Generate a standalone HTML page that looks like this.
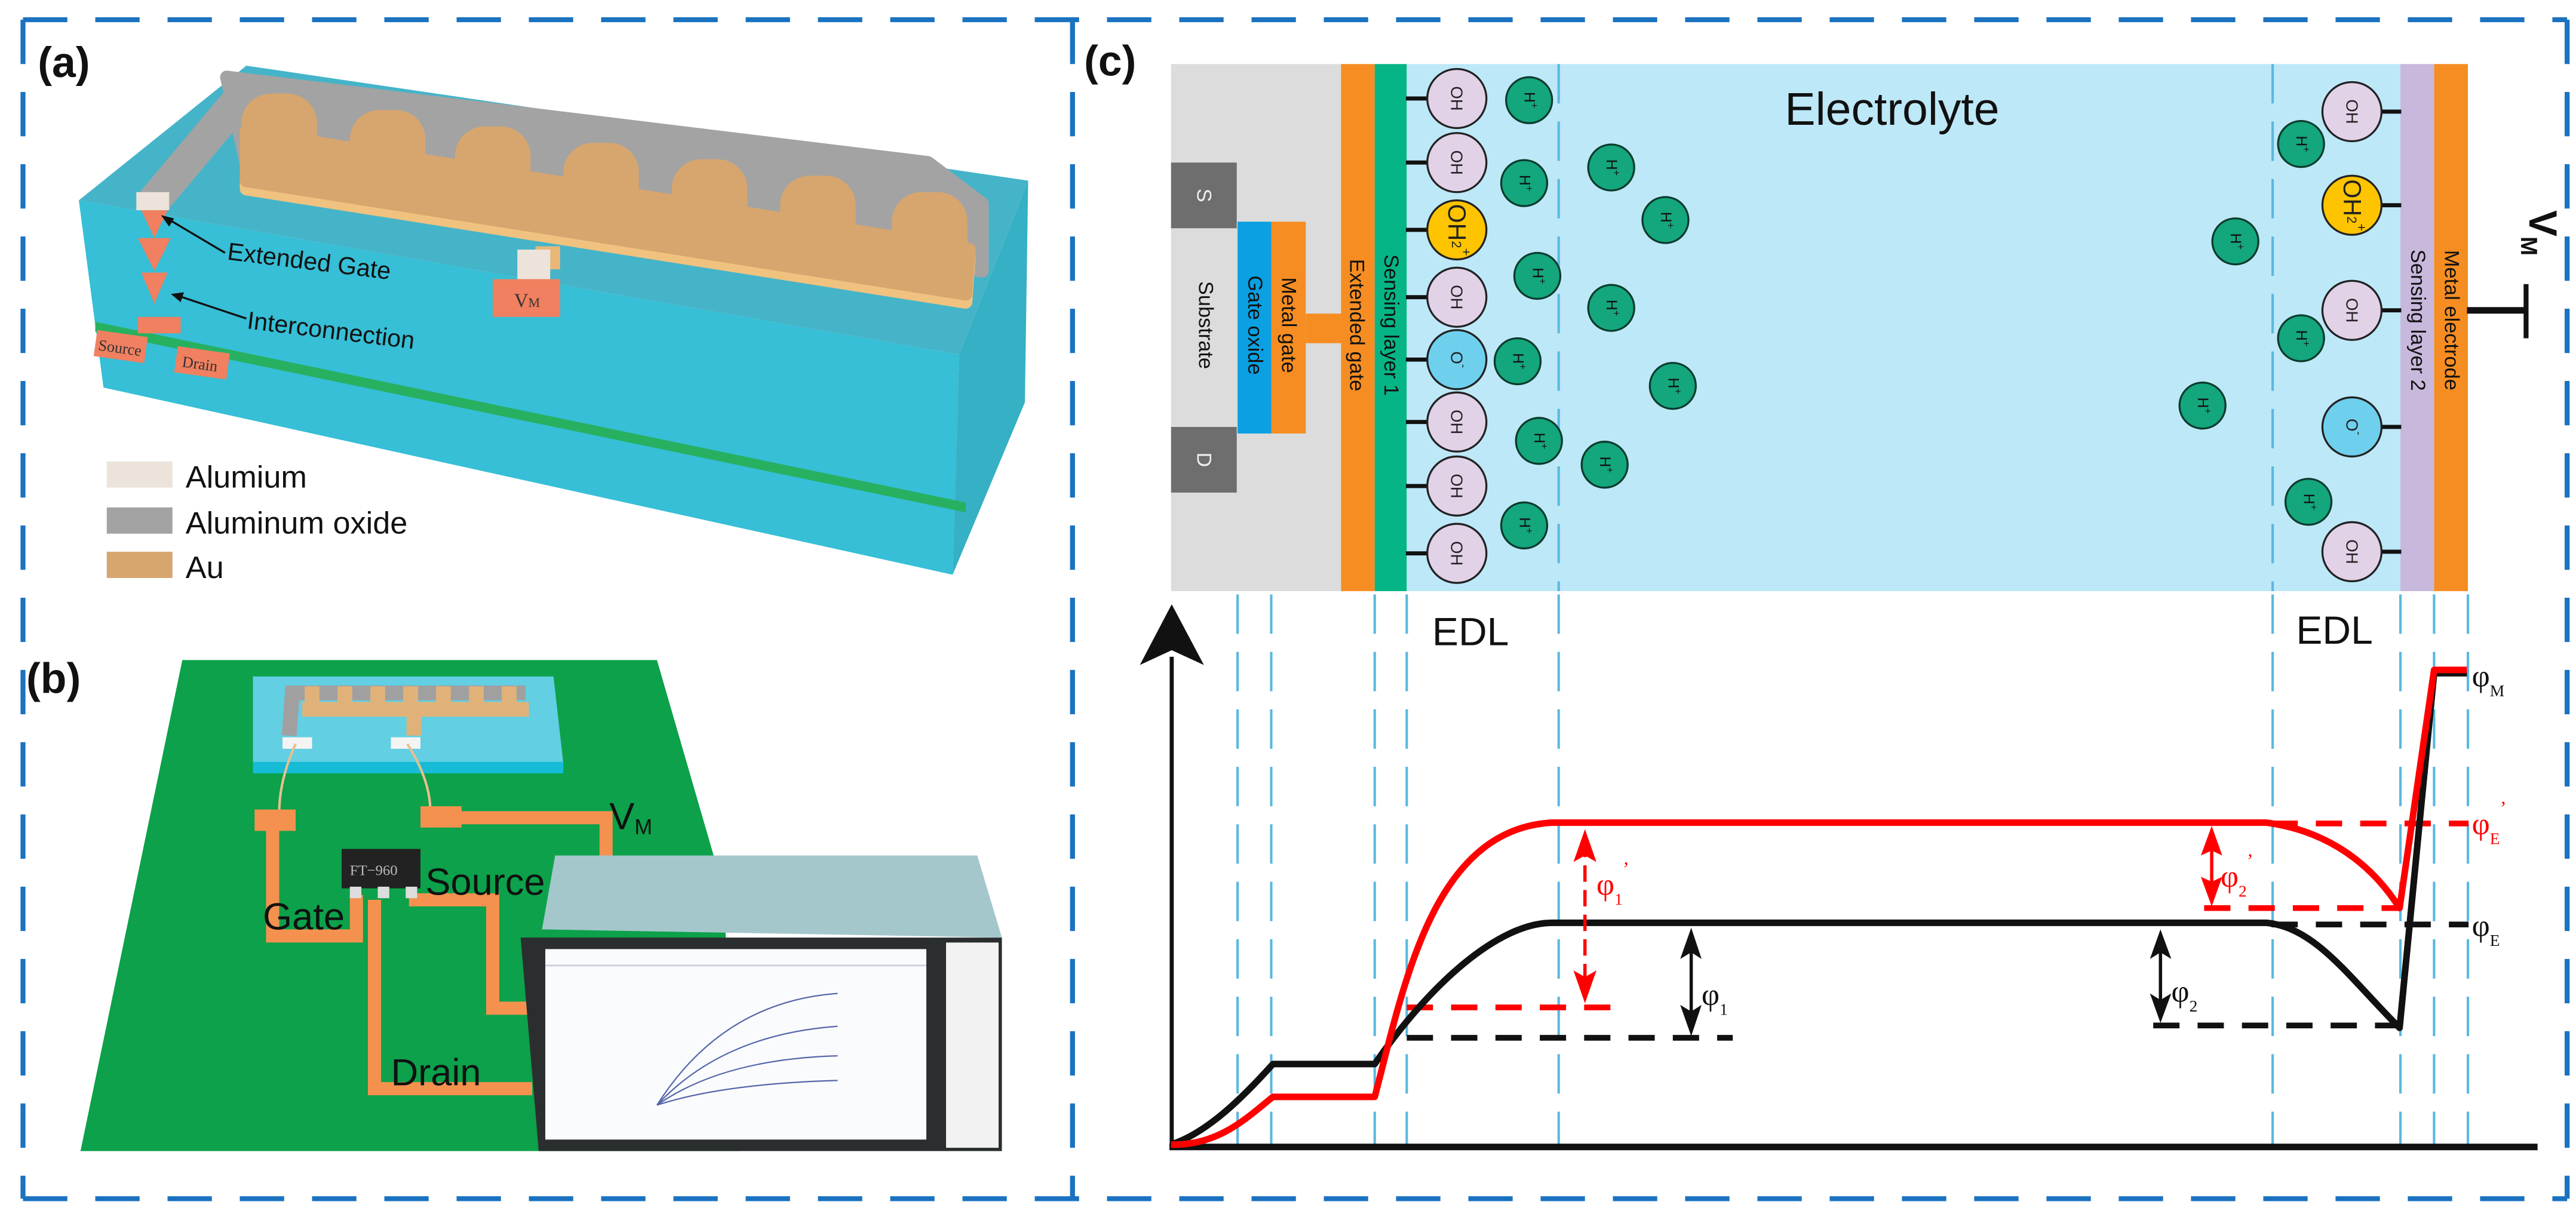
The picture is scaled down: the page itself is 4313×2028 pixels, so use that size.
<!DOCTYPE html>
<html><head><meta charset="utf-8"><style>html,body{margin:0;padding:0;background:#fff}svg{display:block}</style></head><body>
<svg width="4313" height="2028" viewBox="0 0 1568.4 737.5" preserveAspectRatio="none" xmlns="http://www.w3.org/2000/svg" font-family="Liberation Sans, sans-serif">
<rect width="1568.4" height="737.5" fill="#fff"/>
<g stroke="#1a72c0" stroke-width="3" fill="none" stroke-dasharray="27 17">
<line x1="14" y1="12" x2="1563" y2="12"/>
<line x1="14" y1="730" x2="1563" y2="730"/>
<line x1="14" y1="12" x2="14" y2="730"/>
<line x1="653" y1="12" x2="653" y2="730"/>
<line x1="1563" y1="12" x2="1563" y2="730"/>
</g>
<g font-weight="bold" font-size="26" fill="#111">
<text x="23" y="47">(a)</text><text x="16" y="422">(b)</text><text x="660" y="46">(c)</text>
</g>
<!-- (a) block -->
<polygon points="48,122 150,40 626,110 584,216" fill="#45b4c9"/>
<polygon points="48,122 584,216 580,350 63,236" fill="#36bfd6"/>
<polygon points="584,216 626,110 624,245 580,350" fill="#35b0c4"/>
<polygon points="58,196 588,306 588,312 58,202" fill="#27b060"/>
<!-- meander -->
<line x1="94" y1="122" x2="146" y2="60" stroke="#a3a3a3" stroke-width="20" stroke-linecap="round"/>
<polygon points="138,47 565,99 598,124 598,165 150,100" fill="#a3a3a3" stroke="#a3a3a3" stroke-width="8" stroke-linejoin="round"/>
<rect x="83" y="117" width="20" height="11" fill="#ece3da"/>
<polygon points="150,84 590,156 588,184 150,115" fill="#f0c27f" stroke="#f0c27f" stroke-width="8" stroke-linejoin="round"/>
<polygon points="150,80 590,152 588,179 150,110" fill="#d7a66e" stroke="#d7a66e" stroke-width="8" stroke-linejoin="round"/>
<g fill="#d7a66e">
<rect x="147" y="57" width="46" height="45" rx="18"/>
<rect x="213" y="67" width="46" height="50" rx="18"/>
<rect x="277" y="77" width="46" height="50" rx="18"/>
<rect x="343" y="87" width="46" height="52" rx="18"/>
<rect x="409" y="97" width="46" height="52" rx="18"/>
<rect x="475" y="107" width="46" height="55" rx="18"/>
<rect x="543" y="117" width="46" height="55" rx="18"/>
</g>
<rect x="326" y="150" width="15" height="14" fill="#e8b777"/>
<rect x="315" y="152" width="20" height="18" fill="#ece3da"/>
<rect x="300" y="170" width="41" height="23" fill="#f08060"/>
<text x="313" y="187" font-family="Liberation Serif, serif" font-size="12" fill="#333">V<tspan font-size="8">M</tspan></text>
<polygon points="86,128 102,128 94,145" fill="#f08060"/><polygon points="84,145 104,145 94,165" fill="#f08060"/><polygon points="86,166 102,166 94,185" fill="#f08060"/><rect x="84" y="193" width="26" height="10" fill="#f08060"/>
<rect x="58" y="203" width="31" height="16" fill="#f08060" transform="rotate(8 73 211)"/>
<rect x="107" y="213" width="32" height="16" fill="#f08060" transform="rotate(8 123 221)"/>
<text x="60" y="215" font-family="Liberation Serif, serif" font-size="9.5" fill="#333" transform="rotate(8 73 211)">Source</text>
<text x="111" y="225" font-family="Liberation Serif, serif" font-size="9.5" fill="#333" transform="rotate(8 123 221)">Drain</text>
<line x1="137" y1="154" x2="100" y2="132" stroke="#111" stroke-width="1.2"/><polygon points="98,131 106,133 103,138" fill="#111"/>
<line x1="150" y1="194" x2="108" y2="180" stroke="#111" stroke-width="1.2"/><polygon points="104,179 112,178 110,184" fill="#111"/>
<text x="138" y="158" font-size="15" fill="#111" transform="rotate(7 138 158)">Extended Gate</text>
<text x="150" y="200" font-size="15" fill="#111" transform="rotate(7 150 200)">Interconnection</text>
<rect x="65" y="281" width="40" height="16" fill="#ece3da"/><rect x="65" y="309" width="40" height="16" fill="#a3a3a3"/><rect x="65" y="336" width="40" height="16" fill="#d7a66e"/>
<g font-size="19" fill="#111"><text x="113" y="297">Alumium</text><text x="113" y="325">Aluminum oxide</text><text x="113" y="352">Au</text></g>
<!-- (b) -->
<polygon points="111,402 400,402 440,540 450,701 49,701" fill="#0ca14a"/>
<polygon points="154,412 337,412 343,465 154,465" fill="#62cfe3"/>
<rect x="154" y="464" width="189" height="7" fill="#16bcd6"/>
<polyline points="176,448 178,422 320,422" stroke="#a0a0a0" stroke-width="9" fill="none"/>
<g stroke="#e0b27a" stroke-width="9" fill="none"><line x1="184" y1="432" x2="322" y2="432"/><line x1="190" y1="432" x2="190" y2="418"/><line x1="210" y1="432" x2="210" y2="418"/><line x1="230" y1="432" x2="230" y2="418"/><line x1="250" y1="432" x2="250" y2="418"/><line x1="270" y1="432" x2="270" y2="418"/><line x1="290" y1="432" x2="290" y2="418"/><line x1="310" y1="432" x2="310" y2="418"/><line x1="252" y1="432" x2="252" y2="448"/></g>
<rect x="172" y="449" width="18" height="7" fill="#f4f4f4"/><rect x="238" y="449" width="18" height="7" fill="#f4f4f4"/>
<path d="M180,453 Q170,475 170,495 M248,453 Q262,475 262,494" stroke="#e8c090" stroke-width="1.5" fill="none"/>
<g stroke="#f5914e" stroke-width="8" fill="none" stroke-linejoin="miter">
<polyline points="166,500 166,570 217,570 217,545"/>
<polyline points="280,498 369,498 369,522"/>
<polyline points="249,548 300,548 300,614 322,614"/>
<polyline points="228,548 228,663 324,663"/>
</g>
<rect x="155" y="493" width="25" height="13" fill="#f5914e"/><rect x="256" y="491" width="25" height="13" fill="#f5914e"/>
<rect x="208" y="517" width="48" height="24" fill="#222"/>
<rect x="213" y="540" width="7" height="7" fill="#ddd"/><rect x="230" y="540" width="7" height="7" fill="#ddd"/><rect x="247" y="540" width="7" height="7" fill="#ddd"/>
<text x="213" y="533" font-family="Liberation Serif, serif" font-size="9" fill="#bbb">FT−960</text>
<g font-size="23" fill="#111"><text x="259" y="545">Source</text><text x="160" y="566">Gate</text><text x="238" y="661">Drain</text><text x="371" y="505">V<tspan font-size="13" dy="3">M</tspan></text></g>
<polygon points="330,566 338,521 595,521 610,571" fill="#a4c7cc"/>
<polygon points="317,571 610,571 610,701 328,701" fill="#2b2e2e"/>
<rect x="332" y="578" width="232" height="116" fill="#fafbfd"/>
<rect x="576" y="574" width="32" height="125" fill="#f2f2f2"/>
<g stroke="#5566aa" stroke-width="0.8" fill="none"><path d="M400,673 Q440,610 510,605"/><path d="M400,673 Q440,630 510,625"/><path d="M400,673 Q440,645 510,643"/><path d="M400,673 Q440,660 510,658"/></g>
<line x1="332" y1="588" x2="564" y2="588" stroke="#ccd" stroke-width="1"/>
<!-- (c) top -->
<rect x="713" y="39" width="104" height="321" fill="#dcdcdc"/>
<rect x="713" y="99" width="40" height="40" fill="#6e6e6e"/><rect x="713" y="260" width="40" height="40" fill="#6e6e6e"/>
<rect x="753.5" y="135" width="21" height="129" fill="#0aa0e2"/>
<rect x="774" y="135" width="21" height="129" fill="#f68d22"/><rect x="795" y="191" width="22" height="18" fill="#f68d22"/>
<rect x="816.5" y="39" width="20.5" height="321" fill="#f68d22"/>
<rect x="837" y="39" width="19.5" height="321" fill="#06b585"/>
<rect x="856.5" y="39" width="605" height="321" fill="#bde8f8"/>
<rect x="1461.5" y="39" width="20.5" height="321" fill="#c8b8dc"/>
<rect x="1482" y="39" width="20.6" height="321" fill="#f68d22"/>
<text x="1152" y="76" font-size="28" text-anchor="middle" fill="#111">Electrolyte</text>
<g font-size="12.5" fill="#111" text-anchor="middle" dominant-baseline="central">
<text transform="translate(734,198) rotate(90)">Substrate</text>
<text transform="translate(764,198) rotate(90)">Gate oxide</text>
<text transform="translate(784.5,198) rotate(90)">Metal gate</text>
<text transform="translate(826,198) rotate(90)">Extended gate</text>
<text transform="translate(847,198) rotate(90)">Sensing layer 1</text>
<text transform="translate(1472,195) rotate(90)">Sensing layer 2</text>
<text transform="translate(1492.5,195) rotate(90)">Metal electrode</text>
<text fill="#eee" transform="translate(733,119) rotate(90)">S</text>
<text fill="#eee" transform="translate(733,280) rotate(90)">D</text>
</g>
<g stroke="#5ab8e0" stroke-width="1.5" stroke-dasharray="24 11"><line x1="949" y1="39" x2="949" y2="360"/><line x1="1383.7" y1="39" x2="1383.7" y2="360"/></g>
<g stroke="#111" stroke-width="2.5">
<line x1="856" y1="60" x2="870" y2="60"/><line x1="856" y1="99" x2="870" y2="99"/><line x1="856" y1="140" x2="870" y2="140"/><line x1="856" y1="181" x2="870" y2="181"/><line x1="856" y1="219" x2="870" y2="219"/><line x1="856" y1="257" x2="870" y2="257"/><line x1="856" y1="296" x2="870" y2="296"/><line x1="856" y1="337" x2="870" y2="337"/>
<line x1="1449" y1="68" x2="1462" y2="68"/><line x1="1449" y1="125" x2="1462" y2="125"/><line x1="1449" y1="189" x2="1462" y2="189"/><line x1="1449" y1="260" x2="1462" y2="260"/><line x1="1449" y1="336" x2="1462" y2="336"/>
</g>
<g stroke="#222" stroke-width="1.2">
<circle cx="887" cy="60" r="18" fill="#e2d2e8"/><circle cx="887" cy="99" r="18" fill="#e2d2e8"/><circle cx="887" cy="140" r="18" fill="#ffc400"/><circle cx="887" cy="181" r="18" fill="#e2d2e8"/><circle cx="887" cy="219" r="18" fill="#6fd0ee"/><circle cx="887" cy="257" r="18" fill="#e2d2e8"/><circle cx="887" cy="296" r="18" fill="#e2d2e8"/><circle cx="887" cy="337" r="18" fill="#e2d2e8"/>
<circle cx="1432" cy="68" r="18" fill="#e2d2e8"/><circle cx="1432" cy="125" r="18" fill="#ffc400"/><circle cx="1432" cy="189" r="18" fill="#e2d2e8"/><circle cx="1432" cy="260" r="18" fill="#6fd0ee"/><circle cx="1432" cy="336" r="18" fill="#e2d2e8"/>
</g>
<g font-size="10" fill="#222" text-anchor="middle" dominant-baseline="central">
<text transform="translate(887,60) rotate(90)">OH</text><text transform="translate(887,99) rotate(90)">OH</text><text font-size="15" transform="translate(887,140) rotate(90)">OH<tspan font-size="8">2</tspan><tspan font-size="8" dy="-6">+</tspan></text><text transform="translate(887,181) rotate(90)">OH</text><text transform="translate(887,219) rotate(90)">O<tspan font-size="7" dy="-4">-</tspan></text><text transform="translate(887,257) rotate(90)">OH</text><text transform="translate(887,296) rotate(90)">OH</text><text transform="translate(887,337) rotate(90)">OH</text>
<text transform="translate(1432,68) rotate(90)">OH</text><text font-size="15" transform="translate(1432,125) rotate(90)">OH<tspan font-size="8">2</tspan><tspan font-size="8" dy="-6">+</tspan></text><text transform="translate(1432,189) rotate(90)">OH</text><text transform="translate(1432,260) rotate(90)">O<tspan font-size="7" dy="-4">-</tspan></text><text transform="translate(1432,336) rotate(90)">OH</text>
</g>
<g fill="#14a67c" stroke="#0b3b2c" stroke-width="1.2">
<circle cx="931" cy="61" r="14"/><circle cx="928" cy="111.5" r="14"/><circle cx="981" cy="102" r="14"/><circle cx="1014" cy="134" r="14"/><circle cx="936" cy="168" r="14"/><circle cx="981" cy="187.5" r="14"/><circle cx="924" cy="220" r="14"/><circle cx="1018.5" cy="235" r="14"/><circle cx="937" cy="268.5" r="14"/><circle cx="977" cy="283" r="14"/><circle cx="928" cy="320" r="14"/>
<circle cx="1401" cy="87.7" r="14"/><circle cx="1361" cy="147" r="14"/><circle cx="1401" cy="206" r="14"/><circle cx="1341" cy="247" r="14"/><circle cx="1405.5" cy="305.6" r="14"/>
</g>
<g font-size="9" fill="#111" text-anchor="middle" dominant-baseline="central">
<text transform="translate(931,61) rotate(90)">H<tspan font-size="6" dy="-3">+</tspan></text><text transform="translate(928,111.5) rotate(90)">H<tspan font-size="6" dy="-3">+</tspan></text><text transform="translate(981,102) rotate(90)">H<tspan font-size="6" dy="-3">+</tspan></text><text transform="translate(1014,134) rotate(90)">H<tspan font-size="6" dy="-3">+</tspan></text><text transform="translate(936,168) rotate(90)">H<tspan font-size="6" dy="-3">+</tspan></text><text transform="translate(981,187.5) rotate(90)">H<tspan font-size="6" dy="-3">+</tspan></text><text transform="translate(924,220) rotate(90)">H<tspan font-size="6" dy="-3">+</tspan></text><text transform="translate(1018.5,235) rotate(90)">H<tspan font-size="6" dy="-3">+</tspan></text><text transform="translate(937,268.5) rotate(90)">H<tspan font-size="6" dy="-3">+</tspan></text><text transform="translate(977,283) rotate(90)">H<tspan font-size="6" dy="-3">+</tspan></text><text transform="translate(928,320) rotate(90)">H<tspan font-size="6" dy="-3">+</tspan></text>
<text transform="translate(1401,87.7) rotate(90)">H<tspan font-size="6" dy="-3">+</tspan></text><text transform="translate(1361,147) rotate(90)">H<tspan font-size="6" dy="-3">+</tspan></text><text transform="translate(1401,206) rotate(90)">H<tspan font-size="6" dy="-3">+</tspan></text><text transform="translate(1341,247) rotate(90)">H<tspan font-size="6" dy="-3">+</tspan></text><text transform="translate(1405.5,305.6) rotate(90)">H<tspan font-size="6" dy="-3">+</tspan></text>
</g>
<line x1="1502" y1="189" x2="1538" y2="189" stroke="#111" stroke-width="4"/><line x1="1538" y1="173" x2="1538" y2="206" stroke="#111" stroke-width="3"/>
<text transform="translate(1540,128) rotate(90)" font-size="24" font-weight="bold" fill="#111">V<tspan font-size="14" dy="5">M</tspan></text>
<!-- (c) graph -->
<g stroke="#5ab8e0" stroke-width="1.5" stroke-dasharray="24 11">
<line x1="753.5" y1="362" x2="753.5" y2="698"/><line x1="774" y1="362" x2="774" y2="698"/><line x1="837" y1="362" x2="837" y2="698"/><line x1="856.5" y1="362" x2="856.5" y2="698"/><line x1="949" y1="362" x2="949" y2="698"/><line x1="1383.7" y1="362" x2="1383.7" y2="698"/><line x1="1461.5" y1="362" x2="1461.5" y2="698"/><line x1="1482" y1="362" x2="1482" y2="698"/><line x1="1502.6" y1="362" x2="1502.6" y2="698"/>
</g>
<g font-size="24" fill="#111"><text x="872" y="393">EDL</text><text x="1398" y="392">EDL</text></g>
<line x1="713.4" y1="400" x2="713.4" y2="699" stroke="#111" stroke-width="2.5"/>
<polygon points="713.4,368 733,405 713.4,396 694,405" fill="#111"/>
<line x1="712" y1="698.5" x2="1545" y2="698.5" stroke="#111" stroke-width="4"/>
<g stroke-width="3.5" stroke-dasharray="16 11" fill="none">
<line x1="856.5" y1="613.5" x2="985" y2="613.5" stroke="#f00"/>
<line x1="1342" y1="553" x2="1461" y2="553" stroke="#f00"/>
<line x1="1383" y1="501.5" x2="1503" y2="501.5" stroke="#f00"/>
<line x1="856.5" y1="632" x2="1055" y2="632" stroke="#111"/>
<line x1="1311" y1="624.5" x2="1461" y2="624.5" stroke="#111"/>
<line x1="1383" y1="563" x2="1503" y2="563" stroke="#111"/>
</g>
<path d="M713,697 C735,690 757,668 775,648 L837,648 C870,600 912,562 945,562 L1380,562 C1410,565 1430,595 1461,626 L1482,410 L1502,410" stroke="#111" stroke-width="4" fill="none" stroke-linejoin="round"/>
<path d="M713,697 C742,698 760,680 775,668 L837,668 C855,600 872,505 945,501 L1380,501 C1410,505 1440,520 1461,553 L1482,408 L1502,408" stroke="#f00" stroke-width="4" fill="none" stroke-linejoin="round"/>
<g stroke-width="2">
<line x1="965" y1="512" x2="965" y2="604" stroke="#f00" stroke-dasharray="10 5"/>
<line x1="1029.7" y1="572" x2="1029.7" y2="624" stroke="#111"/>
<line x1="1346.6" y1="510" x2="1346.6" y2="545" stroke="#f00"/>
<line x1="1315.4" y1="572" x2="1315.4" y2="616" stroke="#111"/>
</g>
<g fill="#f00"><polygon points="965,505 972,525 965,521 958,525"/><polygon points="965,611 972,591 965,595 958,591"/><polygon points="1346.6,503 1353,521 1346.6,518 1340,521"/><polygon points="1346.6,552 1353,534 1346.6,537 1340,534"/></g>
<g fill="#111"><polygon points="1029.7,565 1036,584 1029.7,580 1023,584"/><polygon points="1029.7,631 1036,612 1029.7,616 1023,612"/><polygon points="1315.4,566 1322,584 1315.4,580 1309,584"/><polygon points="1315.4,623 1322,605 1315.4,609 1309,605"/></g>
<g font-family="Liberation Serif, serif" font-size="19">
<text x="972" y="545" fill="#f00">φ<tspan font-size="10" dy="6">1</tspan><tspan font-size="12" dy="-18">’</tspan></text>
<text x="1036" y="612" fill="#111">φ<tspan font-size="10" dy="6">1</tspan></text>
<text x="1352" y="540" fill="#f00">φ<tspan font-size="10" dy="6">2</tspan><tspan font-size="12" dy="-18">’</tspan></text>
<text x="1322" y="610" fill="#111">φ<tspan font-size="10" dy="6">2</tspan></text>
<text x="1505" y="418" fill="#111">φ<tspan font-size="10" dy="6">M</tspan></text>
<text x="1505" y="508" fill="#f00">φ<tspan font-size="10" dy="6">E</tspan><tspan font-size="12" dy="-18">’</tspan></text>
<text x="1505" y="570" fill="#111">φ<tspan font-size="10" dy="6">E</tspan></text>
</g>
</svg>
</body></html>
